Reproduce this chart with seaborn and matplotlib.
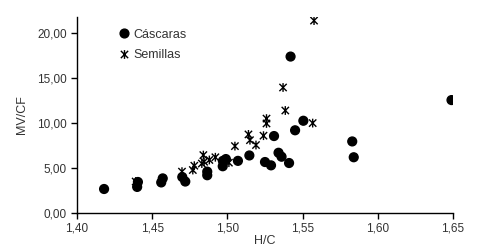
import numpy as np
import pandas as pd
import matplotlib
matplotlib.use("Agg")
import matplotlib.pyplot as plt
from matplotlib.path import Path
from matplotlib.ticker import FuncFormatter, MultipleLocator
import seaborn as sns

# Cáscaras (circles)
casc_hc = [1.418, 1.440, 1.4405, 1.456, 1.457, 1.470, 1.472, 1.4866, 1.4866, 1.4969, 1.497,
           1.499, 1.507, 1.5146, 1.525, 1.529, 1.531, 1.534, 1.536, 1.541, 1.542, 1.545,
           1.5505, 1.583, 1.584, 1.649]
casc_mv = [2.67, 2.9, 3.45, 3.4, 3.85, 4.0, 3.5, 4.6, 4.2, 5.2, 5.8,
           6.0, 5.8, 6.4, 5.67, 5.3, 8.56, 6.7, 6.26, 5.56, 17.4, 9.2,
           10.26, 7.96, 6.2, 12.56]

# Semillas (stars)
sem_hc = [1.439, 1.4698, 1.477, 1.478, 1.483, 1.484, 1.4845, 1.488, 1.492, 1.501, 1.505,
          1.514, 1.515, 1.519, 1.524, 1.526, 1.526, 1.537, 1.5385, 1.5567, 1.5576]
sem_mv = [3.5, 4.6, 4.78, 5.26, 5.5, 6.44, 5.7, 5.9, 6.2, 5.6, 7.44,
          8.74, 8.1, 7.56, 8.6, 10.5, 9.96, 13.96, 11.4, 10.0, 21.4]

labels = ["Cáscaras", "Semillas"]

df = pd.DataFrame({
    "H/C": casc_hc + sem_hc,
    "MV/CF": casc_mv + sem_mv,
    "Tipo": [labels[0]] * len(casc_hc) + [labels[1]] * len(sem_hc),
})

sns.set_style("white")
plt.rcParams["font.family"] = ["Liberation Sans", "DejaVu Sans"]

star = Path([(-1, -1), (1, 1), (-1, 1), (1, -1), (0, -1.2), (0, 1.2)],
            [Path.MOVETO, Path.LINETO, Path.MOVETO, Path.LINETO, Path.MOVETO, Path.LINETO])

fig = plt.figure(figsize=(4.81, 2.5), dpi=100)
ax = fig.add_axes([77 / 481, 37 / 250, 376 / 481, 196 / 250])

sns.scatterplot(data=df, x="H/C", y="MV/CF", hue="Tipo", style="Tipo",
                palette={labels[0]: "black", labels[1]: "black"},
                markers={labels[0]: "o", labels[1]: star},
                s=40, edgecolor="black", linewidth=1.0, ax=ax)

ax.set_xlim(1.40, 1.65)
ax.set_ylim(0, 21.8)
ax.xaxis.set_major_locator(MultipleLocator(0.05))
ax.yaxis.set_major_locator(MultipleLocator(5))
ax.xaxis.set_major_formatter(FuncFormatter(lambda v, p: f"{v:.2f}".replace(".", ",")))
ax.yaxis.set_major_formatter(FuncFormatter(lambda v, p: f"{v:.2f}".replace(".", ",")))

for s in ["top", "right"]:
    ax.spines[s].set_visible(False)
for s in ["left", "bottom"]:
    ax.spines[s].set_color("black")
    ax.spines[s].set_linewidth(1.0)

ax.tick_params(axis="both", which="major", direction="out", length=4, width=1,
               color="black", labelsize=8.5, labelcolor="#333333", left=True, bottom=True)
ax.tick_params(axis="x", pad=2.5)
ax.set_xlabel("H/C", fontsize=9, color="#333333", labelpad=1)
ax.set_ylabel("MV/CF", fontsize=9, color="#333333", labelpad=6)

leg = ax.legend(loc="upper left", bbox_to_anchor=(0.079, 0.965), frameon=False,
                fontsize=9, handletextpad=-0.3, labelspacing=0.65, markerscale=1.0,
                borderaxespad=0)
for t in leg.get_texts():
    t.set_color("#333333")

fig.savefig("out.png", dpi=100)
